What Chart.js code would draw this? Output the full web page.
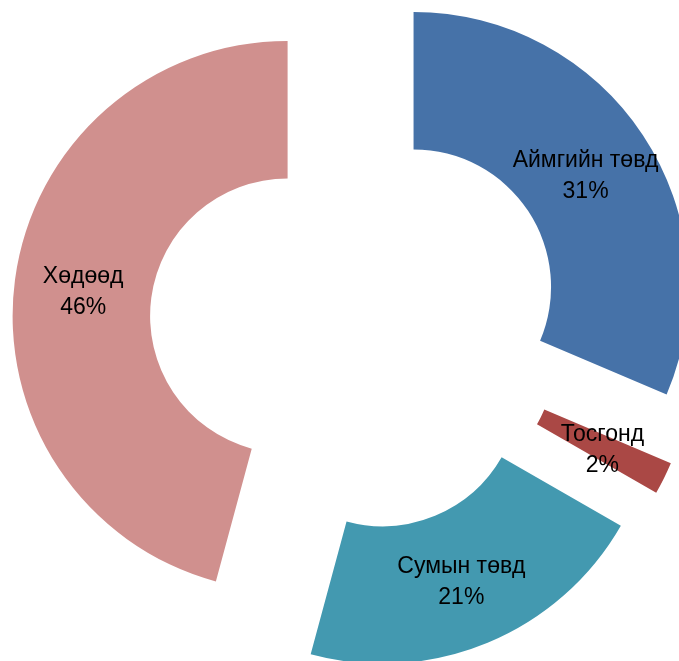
<!DOCTYPE html>
<html>
<head>
<meta charset="utf-8">
<script src="https://cdn.jsdelivr.net/npm/chart.js@4"></script>
<style>
html,body{margin:0;padding:0;background:#fff;}
#wrap{width:679px;height:661px;}
</style>
</head>
<body>
<div id="wrap"><canvas id="pie"></canvas></div>
<script>
const labels=["Аймгийн төвд","Тосгонд","Сумын төвд","Хөдөөд"];
const values=[31.4,1.9,20.9,45.8];
const colors=["#4672a8","#aa4845","#4399b0","#d0908e"];

const total=values.reduce((a,b)=>a+b,0);
const explode=69;

// shift of one slice outward along its middle angle
function shiftOf(a){
let mid=(a.startAngle+a.endAngle)/2;
return {dx:Math.cos(mid)*explode,dy:Math.sin(mid)*explode};
}

/* draw each slice moved out by the same distance */
const explodeSlices={
id:"explodeSlices",
beforeDatasetDraw(chart,args){
let ctx=chart.ctx;
args.meta.data.forEach(a=>{
let s=shiftOf(a);
ctx.save();
ctx.translate(s.dx,s.dy);
a.draw(ctx,chart.chartArea);
ctx.restore();
});
return false;
}
};

const sliceLabels={
id:"sliceLabels",
afterDatasetsDraw(chart){
let ctx=chart.ctx;
let arcs=chart.getDatasetMeta(0).data;
ctx.save();
ctx.font="23px 'Liberation Sans', Arial, sans-serif";
ctx.fillStyle="#000";
ctx.textAlign="center";
ctx.textBaseline="middle";
arcs.forEach((a,i)=>{
let c=a.getCenterPoint();
let s=shiftOf(a);
let x=c.x+s.dx;
let y=c.y+s.dy+3;
let pct=Math.round(values[i]/total*100)+"%";
ctx.fillText(labels[i],x,y-15.5);
ctx.fillText(pct,x,y+15.5);
});
ctx.restore();
}
};

new Chart(document.getElementById("pie"),{
type:"doughnut",
data:{
labels:labels,
datasets:[{
data:values,
backgroundColor:colors,
borderWidth:0,
hoverOffset:0
}]
},
options:{
responsive:true,
maintainAspectRatio:false,
animation:false,
radius:275,
cutout:"50%",
layout:{padding:{left:33,right:0,top:0,bottom:11}},
plugins:{legend:{display:false},tooltip:{enabled:false}},
events:[]
},
plugins:[explodeSlices,sliceLabels]
});
</script>
</body>
</html>
